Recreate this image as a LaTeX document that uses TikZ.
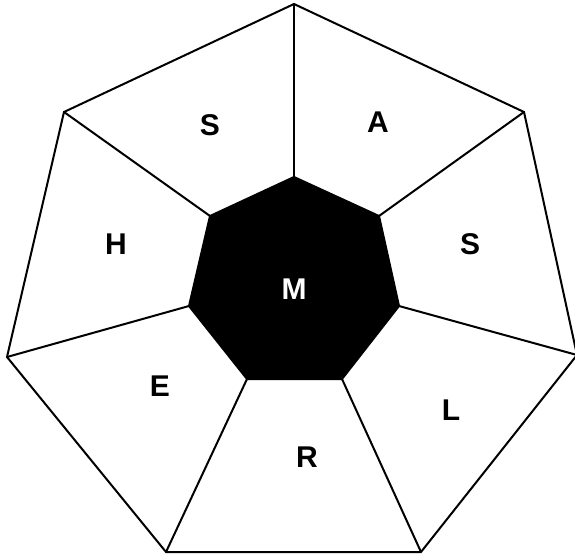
\documentclass[tikz,border=0pt]{standalone}
\usepackage{fontspec}
\setmainfont{Liberation Sans}
\begin{document}
\begin{tikzpicture}[x=1pt,y=-1pt,
  edge/.style={draw=black,line width=2pt,line join=miter},
  lbl/.style={font=\fontsize{30}{34}\selectfont\bfseries,inner sep=0pt},
]
\useasboundingbox (0,0) rectangle (575,556);
% outer vertices
\coordinate (o1) at (294,4);
\coordinate (o2) at (524,112);
\coordinate (o3) at (577,355);
\coordinate (o4) at (421,552);
\coordinate (o5) at (166,552);
\coordinate (o6) at (7,357);
\coordinate (o7) at (64,112);
% inner vertices
\coordinate (i1) at (294,177);
\coordinate (i2) at (379,216);
\coordinate (i3) at (399,306);
\coordinate (i4) at (342,379);
\coordinate (i5) at (247,379);
\coordinate (i6) at (189,306);
\coordinate (i7) at (210,216);
\draw[edge,fill=white] (o1)--(o2)--(o3)--(o4)--(o5)--(o6)--(o7)--cycle;
\foreach \k in {1,...,7}{\draw[edge] (i\k)--(o\k);}
\draw[edge,fill=black] (i1)--(i2)--(i3)--(i4)--(i5)--(i6)--(i7)--cycle;
\node[lbl] (s1) at (210,125) {S};
\node[lbl] (a) at (378,122) {A};
\node[lbl] (s2) at (470,244) {S};
\node[lbl] (l) at (451,410) {L};
\node[lbl] (r) at (307,457) {R};
\node[lbl] (e) at (160,386) {E};
\node[lbl] (h) at (116,244) {H};
\node[lbl,text=white] (m) at (294,289) {M};
\end{tikzpicture}
\end{document}
